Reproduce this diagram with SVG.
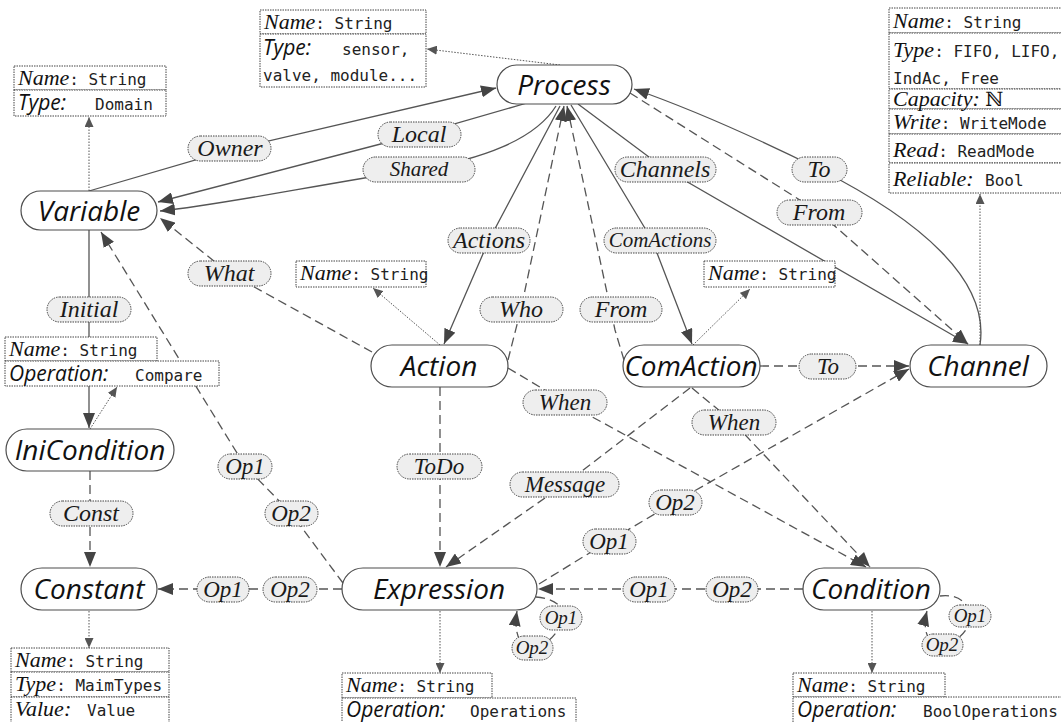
<svg xmlns="http://www.w3.org/2000/svg" width="1061" height="722" viewBox="0 0 1061 722">
<defs>
<style>
.node rect{fill:#fff;stroke:#4d4d4d;stroke-width:1.2}
.node text{font-family:"Open Sans","DejaVu Sans",sans-serif;font-style:italic;font-size:28px;fill:#111;text-anchor:middle}
.e{fill:none;stroke:#555;stroke-width:1.3}
.d{stroke-dasharray:9 5}
.dot{fill:none;stroke:#555;stroke-width:1;stroke-dasharray:1.5 1.5}
.lbl rect{fill:#eeeeee;stroke:#444;stroke-width:1;stroke-dasharray:1.5 1}
.lbl text{font-family:"Liberation Serif","Times New Roman",serif;font-style:italic;fill:#1a1a1a;text-anchor:middle}
.box rect{fill:#fff;stroke:#444;stroke-width:1;stroke-dasharray:1.5 1}
.k{font-family:"Liberation Serif","Times New Roman",serif;font-style:italic;font-size:22px;fill:#111}
.ks{font-family:"Open Sans","DejaVu Sans",sans-serif;font-style:italic;font-size:21px;fill:#111}
.m{font-family:"DejaVu Sans Mono","Liberation Mono",monospace;font-size:16px;fill:#222}
.n{font-family:"DejaVu Serif","Noto Sans",serif;font-style:normal;font-size:20px;fill:#111}
</style>
<marker id="ah" markerUnits="userSpaceOnUse" markerWidth="16" markerHeight="12" refX="15" refY="6" orient="auto"><path d="M0,0 L15,6 L0,12 z" fill="#444"/></marker>
<marker id="as" markerUnits="userSpaceOnUse" markerWidth="11" markerHeight="9" refX="10" refY="4.5" orient="auto"><path d="M0,0 L10,4.5 L0,9 z" fill="#555"/></marker>
</defs>
<rect width="1061" height="722" fill="#fff"/>

<g id="connectors">
<path class="e" d="M89,191 L230,150 L496,88" marker-end="url(#ah)"/>
<path class="e" d="M527,103 L419,134 L158,202" marker-end="url(#ah)"/>
<path class="e" d="M556,106 C535,140 480,160 419,169 C300,188 220,205 160,211" marker-end="url(#ah)"/>
<path class="e d" d="M372,352 L229,273 L160,218" marker-end="url(#ah)"/>
<path class="e" d="M560,106 L489,240 L444,344" marker-end="url(#ah)"/>
<path class="e d" d="M508,360 L521,309 L564,106" marker-end="url(#ah)"/>
<path class="e d" d="M624,360 L615,330 L567,106" marker-end="url(#ah)"/>
<path class="e" d="M571,105 L652,240 L692,344" marker-end="url(#ah)"/>
<path class="e" d="M578,104 L665,169 L968,344" marker-end="url(#ah)"/>
<path class="e d" d="M630,93 L819,212 L968,344" marker-end="url(#ah)"/>
<path class="e" d="M980,345 C990,280 920,220 819,169 C740,130 680,105 634,89" marker-end="url(#ah)"/>
<path class="e d" d="M760,366 L909,366" marker-end="url(#ah)"/>
<path class="e d" d="M508,368 L565,402 L866,567" marker-end="url(#ah)"/>
<path class="e d" d="M692,388 L733,422 L870,567" marker-end="url(#ah)"/>
<path class="e d" d="M690,388 L565,484 L446,567" marker-end="url(#ah)"/>
<path class="e d" d="M440,387 L440,567" marker-end="url(#ah)"/>
<path class="e d" d="M343,583 L291,513 L245,466 L101,232" marker-end="url(#ah)"/>
<path class="e d" d="M342,589 L158,589" marker-end="url(#ah)"/>
<path class="e d" d="M803,589 L538,589" marker-end="url(#ah)"/>
<path class="e d" d="M539,584 L609,541 L675,502 L909,369" marker-end="url(#ah)"/>
<path class="e d" d="M536,597 C552,598 565,606 563,616 L558,630 C550,642 540,648 528,646 C518,644 514,630 517,611" marker-end="url(#ah)"/>
<path class="e d" d="M940,596 C955,594 968,600 970,616 C970,630 958,642 942,645 C928,647 922,630 927,611" marker-end="url(#ah)"/>
<path class="e" d="M89,230 L89,428" marker-end="url(#ah)"/>
<path class="e d" d="M90,471 L90,567" marker-end="url(#ah)"/>
<path class="dot" d="M89,191 L89,117" marker-end="url(#as)"/>
<path class="dot" d="M560,65 L427,49" marker-end="url(#as)"/>
<path class="dot" d="M980,345 L980,194" marker-end="url(#as)"/>
<path class="dot" d="M440,345 L373,288" marker-end="url(#as)"/>
<path class="dot" d="M693,345 L750,289" marker-end="url(#as)"/>
<path class="dot" d="M90,429 L117,387" marker-end="url(#as)"/>
<path class="dot" d="M89,611 L89,648" marker-end="url(#as)"/>
<path class="dot" d="M440,611 L440,673" marker-end="url(#as)"/>
<path class="dot" d="M872,611 L872,673" marker-end="url(#as)"/>
</g>

<g id="edge-labels" class="lbl">
<rect x="188" y="136" width="83" height="25" rx="12.5"/><text x="230" y="156" font-size="24">Owner</text>
<rect x="378" y="122" width="83" height="25" rx="12.5"/><text x="419" y="142" font-size="24">Local</text>
<rect x="363" y="157" width="112" height="25" rx="12.5"/><text x="419" y="176" font-size="21">Shared</text>
<rect x="448" y="228" width="82" height="25" rx="12.5"/><text x="489" y="248" font-size="24">Actions</text>
<rect x="604" y="228" width="112" height="25" rx="12.5"/><text x="660" y="247" font-size="21">ComActions</text>
<rect x="615" y="157" width="101" height="25" rx="12.5"/><text x="665" y="177" font-size="24">Channels</text>
<rect x="792" y="157" width="55" height="25" rx="12.5"/><text x="819" y="177" font-size="24">To</text>
<rect x="777" y="200" width="85" height="25" rx="12.5"/><text x="819" y="220" font-size="24">From</text>
<rect x="188" y="261" width="83" height="25" rx="12.5"/><text x="229" y="281" font-size="24">What</text>
<rect x="480" y="297" width="83" height="25" rx="12.5"/><text x="521" y="317" font-size="24">Who</text>
<rect x="580" y="297" width="82" height="25" rx="12.5"/><text x="621" y="317" font-size="24">From</text>
<rect x="47" y="297" width="84" height="25" rx="12.5"/><text x="89" y="317" font-size="24">Initial</text>
<rect x="523" y="390" width="84" height="25" rx="12.5"/><text x="565" y="410" font-size="23">When</text>
<rect x="692" y="410" width="84" height="25" rx="12.5"/><text x="734" y="430" font-size="23">When</text>
<rect x="799" y="354" width="57" height="25" rx="12.5"/><text x="828" y="374" font-size="23">To</text>
<rect x="397" y="454" width="85" height="25" rx="12.5"/><text x="439" y="474" font-size="23">ToDo</text>
<rect x="510" y="472" width="109" height="25" rx="12.5"/><text x="565" y="492" font-size="23">Message</text>
<rect x="218" y="454" width="54" height="25" rx="12.5"/><text x="245" y="474" font-size="23">Op1</text>
<rect x="265" y="501" width="53" height="25" rx="12.5"/><text x="291" y="521" font-size="23">Op2</text>
<rect x="50" y="501" width="83" height="25" rx="12.5"/><text x="91" y="521" font-size="24">Const</text>
<rect x="649" y="490" width="53" height="25" rx="12.5"/><text x="675" y="510" font-size="23">Op2</text>
<rect x="583" y="529" width="53" height="25" rx="12.5"/><text x="609" y="549" font-size="23">Op1</text>
<rect x="197" y="577" width="52" height="25" rx="12.5"/><text x="223" y="597" font-size="23">Op1</text>
<rect x="263" y="577" width="54" height="25" rx="12.5"/><text x="290" y="597" font-size="23">Op2</text>
<rect x="623" y="577" width="52" height="25" rx="12.5"/><text x="649" y="597" font-size="23">Op1</text>
<rect x="706" y="577" width="52" height="25" rx="12.5"/><text x="732" y="597" font-size="23">Op2</text>
<rect x="540" y="606" width="42" height="24" rx="12"/><text x="561" y="624" font-size="19">Op1</text>
<rect x="512" y="636" width="41" height="24" rx="12"/><text x="532" y="654" font-size="19">Op2</text>
<rect x="949" y="605" width="42" height="22" rx="11"/><text x="970" y="622" font-size="19">Op1</text>
<rect x="922" y="634" width="41" height="22" rx="11"/><text x="942" y="651" font-size="19">Op2</text>
</g>

<g id="node-process" class="node"><rect x="497" y="65" width="135" height="39" rx="19.5"/><text x="564" y="95">Process</text></g>
<g id="node-variable" class="node"><rect x="21" y="191" width="136" height="39" rx="19.5"/><text x="89" y="221">Variable</text></g>
<g id="node-action" class="node"><rect x="371" y="345" width="137" height="42" rx="21"/><text x="439" y="376">Action</text></g>
<g id="node-comaction" class="node"><rect x="623" y="345" width="137" height="42" rx="21"/><text x="691" y="376">ComAction</text></g>
<g id="node-channel" class="node"><rect x="910" y="345" width="137" height="42" rx="21"/><text x="978" y="376">Channel</text></g>
<g id="node-inicondition" class="node"><rect x="6" y="429" width="168" height="42" rx="21"/><text x="90" y="460">IniCondition</text></g>
<g id="node-constant" class="node"><rect x="21" y="568" width="136" height="42" rx="21"/><text x="89" y="599">Constant</text></g>
<g id="node-expression" class="node"><rect x="342" y="568" width="195" height="42" rx="21"/><text x="439" y="599">Expression</text></g>
<g id="node-condition" class="node"><rect x="803" y="568" width="137" height="42" rx="21"/><text x="871" y="599">Condition</text></g>

<g id="attr-variable" class="box">
<rect x="14" y="66" width="152" height="24"/><rect x="14" y="90" width="152" height="26"/>
<text y="85"><tspan x="18" class="k">Name</tspan><tspan class="m">: String</tspan></text>
<text y="110"><tspan x="18" class="ks">Type:</tspan><tspan x="95" class="m">Domain</tspan></text>
</g>
<g id="attr-process" class="box">
<rect x="260" y="10" width="166" height="24"/><rect x="260" y="34" width="166" height="53"/>
<text y="29"><tspan x="264" class="k">Name</tspan><tspan class="m">: String</tspan></text>
<text y="55"><tspan x="263" class="ks">Type:</tspan><tspan x="342" class="m">sensor,</tspan></text>
<text y="81"><tspan x="263" class="m">valve, module...</tspan></text>
</g>
<g id="attr-channel" class="box">
<rect x="889" y="8" width="175" height="25"/><rect x="889" y="33" width="175" height="56"/><rect x="889" y="89" width="175" height="20"/>
<rect x="889" y="109" width="175" height="25"/><rect x="889" y="134" width="175" height="29"/><rect x="889" y="163" width="175" height="30"/>
<text y="28"><tspan x="893" class="k">Name</tspan><tspan class="m">: String</tspan></text>
<text y="57"><tspan x="893" class="k">Type</tspan><tspan class="m">: FIFO, LIFO,</tspan></text>
<text y="84"><tspan x="893" class="m">IndAc, Free</tspan></text>
<text y="106"><tspan x="893" class="k">Capacity: </tspan><tspan class="n">ℕ</tspan></text>
<text y="129"><tspan x="893" class="k">Write</tspan><tspan class="m">: WriteMode</tspan></text>
<text y="157"><tspan x="893" class="k">Read</tspan><tspan class="m">: ReadMode</tspan></text>
<text y="186"><tspan x="893" class="k">Reliable</tspan><tspan class="k">:</tspan><tspan x="985" class="m">Bool</tspan></text>
</g>
<g id="attr-action" class="box">
<rect x="296" y="261" width="130" height="26"/>
<text y="280"><tspan x="300" class="k" font-size="18">Name</tspan><tspan class="m" font-size="14">: String</tspan></text>
</g>
<g id="attr-comaction" class="box">
<rect x="704" y="261" width="131" height="26"/>
<text y="280"><tspan x="708" class="k" font-size="18">Name</tspan><tspan class="m" font-size="14">: String</tspan></text>
</g>
<g id="attr-inicondition" class="box">
<rect x="5" y="337" width="152" height="24"/><rect x="5" y="361" width="214" height="25"/>
<text y="356"><tspan x="9" class="k">Name</tspan><tspan class="m">: String</tspan></text>
<text y="381"><tspan x="9" class="ks">Operation:</tspan><tspan x="135" class="m">Compare</tspan></text>
</g>
<g id="attr-constant" class="box">
<rect x="11" y="648" width="158" height="24"/><rect x="11" y="672" width="158" height="25"/><rect x="11" y="697" width="158" height="30"/>
<text y="667"><tspan x="15" class="k">Name</tspan><tspan class="m">: String</tspan></text>
<text y="691"><tspan x="15" class="k">Type</tspan><tspan class="m">: MaimTypes</tspan></text>
<text y="716"><tspan x="15" class="k">Value</tspan><tspan class="k">:</tspan><tspan x="87" class="m">Value</tspan></text>
</g>
<g id="attr-expression" class="box">
<rect x="342" y="673" width="150" height="25"/><rect x="342" y="698" width="234" height="30"/>
<text y="692"><tspan x="346" class="k">Name</tspan><tspan class="m">: String</tspan></text>
<text y="717"><tspan x="346" class="ks">Operation:</tspan><tspan x="470" class="m">Operations</tspan></text>
</g>
<g id="attr-condition" class="box">
<rect x="793" y="673" width="152" height="24"/><rect x="793" y="697" width="275" height="30"/>
<text y="692"><tspan x="797" class="k">Name</tspan><tspan class="m">: String</tspan></text>
<text y="717"><tspan x="797" class="ks">Operation:</tspan><tspan x="923" class="m">BoolOperations</tspan></text>
</g>
</svg>
